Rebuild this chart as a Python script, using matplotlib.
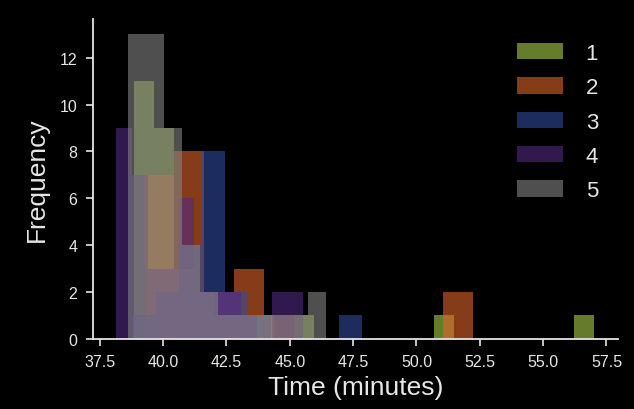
import numpy as np
import matplotlib
matplotlib.use("Agg")
import matplotlib.pyplot as plt

plt.rcParams['font.family'] = ['Liberation Sans', 'DejaVu Sans']

# histogram data per group: first bin edge (minutes), bin width, counts per bin
labels = ['1', '2', '3', '4', '5']

start_1, width_1 = 38.87, 0.789
counts_1 = [11, 9, 3, 2, 1, 1, 1, 0, 1, 0, 0, 0, 0, 0, 0, 1, 0, 0, 0, 0, 0, 0, 1]

start_2, width_2 = 39.27, 1.179
counts_2 = [7, 8, 2, 3, 1, 0, 0, 0, 0, 0, 2]

start_3, width_3 = 38.83, 0.903
counts_3 = [1, 2, 4, 8, 2, 1, 0, 0, 0, 1]

start_4, width_4 = 38.16, 0.615
counts_4 = [9, 7, 3, 3, 6, 2, 2, 2, 1, 0, 2, 2]

start_5, width_5 = 38.61, 0.710
counts_5 = [13, 13, 9, 4, 2, 1, 1, 1, 1, 1, 2]

x_ticks = [37.5, 40.0, 42.5, 45.0, 47.5, 50.0, 52.5, 55.0, 57.5]
y_ticks = [0, 2, 4, 6, 8, 10, 12]

colors = ['#a8d04b', '#e0642a', '#324b9e', '#532a85', '#858585']

fig = plt.figure(figsize=(6.34, 4.10), dpi=100, facecolor='black')
ax = fig.add_subplot(111, facecolor='black')
fig.subplots_adjust(left=0.146, right=0.975, bottom=0.171, top=0.951)

series = [(start_1, width_1, counts_1), (start_2, width_2, counts_2),
          (start_3, width_3, counts_3), (start_4, width_4, counts_4),
          (start_5, width_5, counts_5)]

for (s, w, c), col, lab in zip(series, colors, labels):
    edges = s + w * np.arange(len(c) + 1)
    ax.hist(edges[:-1], bins=edges, weights=c, color=col, alpha=0.6, label=lab)

ax.set_xticks(x_ticks)
ax.set_xticklabels(['{:.1f}'.format(t) for t in x_ticks])
ax.set_yticks(y_ticks)

fg = '#e6e6e6'
for side in ['top', 'right']:
    ax.spines[side].set_visible(False)
for side in ['left', 'bottom']:
    ax.spines[side].set_color(fg)
    ax.spines[side].set_linewidth(1.3)
ax.tick_params(colors=fg, labelsize=11.5, length=5, width=1.2, pad=6)

ax.set_xlabel('Time (minutes)', color=fg, fontsize=19, labelpad=4)
ax.set_ylabel('Frequency', color=fg, fontsize=19, labelpad=8)

leg = ax.legend(loc='upper right', bbox_to_anchor=(1.0, 0.988), frameon=False,
                fontsize=16, handlelength=2.1, handleheight=0.75,
                labelspacing=0.6, handletextpad=1.0)
for t in leg.get_texts():
    t.set_color(fg)

fig.savefig('out.png', dpi=100, facecolor='black')
